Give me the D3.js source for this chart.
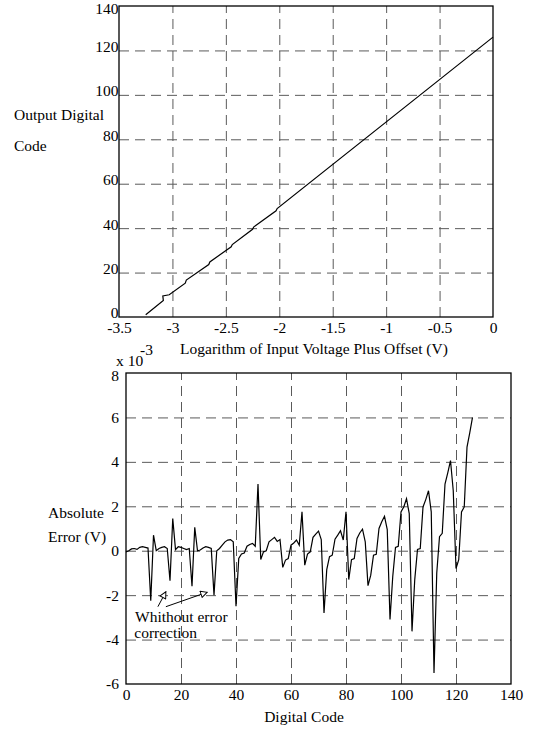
<!DOCTYPE html>
<html>
<head>
<meta charset="utf-8">
<script src="https://cdn.jsdelivr.net/npm/d3@7"></script>
<style>
  body { margin: 0; background: #fff; }
  svg { display: block; }
  text { font-family: "Liberation Serif", "Times New Roman", serif; font-size: 15.5px; fill: #000; }
  .grid line { stroke: #5a5a5a; stroke-width: 1; stroke-dasharray: 10, 6; }
  .grid path { display: none; }
  .lbl path, .lbl line { display: none; }
</style>
</head>
<body>
<svg width="539" height="730"></svg>
<script>
// top chart: output code vs log of input voltage
var logInput = [-3.25, -3.085, -3.09, -3.03, -2.88, -2.87, -2.66, -2.65, -2.45, -2.44, -2.25, -2.24, -2.03, -2.02, 0];
var outCode  = [1, 7.4, 9.5, 10, 15.2, 16.6, 23.6, 24.8, 31.6, 32.6, 39.5, 40.5, 47.8, 48.8, 126];
var topXTicks = [-3.5, -3, -2.5, -2, -1.5, -1, -0.5, 0];
var topYTicks = [0, 20, 40, 60, 80, 100, 120, 140];

// bottom chart: absolute error (x 1e-3 V) for digital codes 0..126
var absError = [
  -0.05, 0.0, 0.08, 0.1, 0.06, 0.15, 0.18, 0.15, 0.12, -2.25,
  0.7, 0.0, 0.1, 0.15, 0.18, 0.1, -1.35, 1.45, 0.05, 0.18,
  0.15, 0.1, 0.05, 0.1, -1.6, 1.05, 0.0, 0.03, 0.12, 0.18,
  0.15, 0.1, -2.0, 0.0, 0.1, 0.25, 0.4, 0.48, 0.5, 0.4,
  -2.5, -0.35, -0.15, -0.1, 0.2, 0.28, 0.33, 0.2, 3.0, -0.4,
  -0.05, 0.0, 0.4, 0.5, 0.6, 0.42, 0.5, -0.75, -0.42, -0.35,
  0.25, 0.35, 0.48, 0.25, 1.75, -0.65, -0.15, -0.05, 0.6, 0.75,
  0.88, 0.5, -2.8, -0.85, -0.27, -0.2, 0.52, 0.7, 0.9, 0.48,
  1.75, -1.3, -0.4, -0.35, 0.55, 0.8, 0.97, 0.4, -1.57, -1.1,
  -0.2, -0.16, 1.0, 1.3, 1.55, 0.95, -3.1, -1.16, 0.15, 0.2,
  1.75, 1.97, 2.34, 1.67, -3.63, -1.3, 0.06, 0.1, 1.97, 2.3,
  2.7, 1.75, -5.5, -1.0, 0.63, 0.78, 3.0, 3.5, 4.06, 2.7,
  -0.8, -0.4, 1.75, 1.97, 4.66, 5.3, 6.0
];
var botXTicks = [0, 20, 40, 60, 80, 100, 120, 140];
var botYTicks = [-6, -4, -2, 0, 2, 4, 6, 8];

var svg = d3.select("svg");
var plain = function(d) { return String(d); };   // hyphen minus like the original

function drawFrame(g, x, y, xTicks, yTicks) {
    var w = x.range()[1], h = y.range()[0];
    g.append("g").attr("class", "grid")
        .attr("transform", "translate(0," + h + ")")
        .call(d3.axisBottom(x).tickValues(xTicks.slice(1, -1)).tickSize(-h).tickFormat(""));
    g.append("g").attr("class", "grid")
        .call(d3.axisLeft(y).tickValues(yTicks.slice(1, -1)).tickSize(-w).tickFormat(""));
    g.append("rect")
        .attr("width", w).attr("height", h)
        .attr("fill", "none").attr("stroke", "#000").attr("stroke-width", 1.3);
}

function styleLabels(sel) {
    sel.attr("font-size", null).attr("font-family", null);
}

// ---------------- TOP
var tx = d3.scaleLinear().domain([-3.5, 0]).range([0, 374]);
var ty = d3.scaleLinear().domain([0, 140]).range([311, 0]);
var topG = svg.append("g").attr("transform", "translate(119,6)");
drawFrame(topG, tx, ty, topXTicks, topYTicks);

topG.append("path")
    .attr("d", d3.line()(logInput.map(function(v, i) { return [tx(v), ty(outCode[i])]; })))
    .attr("fill", "none").attr("stroke", "#000").attr("stroke-width", 1.2);

topG.append("g").attr("class", "lbl")
    .attr("transform", "translate(0,311)")
    .call(d3.axisBottom(tx).tickValues(topXTicks).tickSize(0).tickPadding(5).tickFormat(plain))
    .call(styleLabels);
topG.append("g").attr("class", "lbl")
    .call(d3.axisLeft(ty).tickValues(topYTicks).tickSize(0).tickPadding(0.5).tickFormat(plain))
    .call(styleLabels)
    .selectAll("text")
    .attr("transform", function(d) { return d === 140 ? "translate(0,3)" : "translate(0,-4)"; });

svg.append("text").attr("x", 14).attr("y", 120).text("Output Digital");
svg.append("text").attr("x", 14).attr("y", 151).text("Code");
svg.append("text").attr("x", 314).attr("y", 354).attr("text-anchor", "middle")
    .text("Logarithm of Input Voltage Plus Offset (V)");

// ---------------- BOTTOM
var bx = d3.scaleLinear().domain([0, 140]).range([0, 385]);
var by = d3.scaleLinear().domain([-6, 8]).range([311, 0]);
var botG = svg.append("g").attr("transform", "translate(126,373)");
drawFrame(botG, bx, by, botXTicks, botYTicks);

botG.append("path")
    .attr("d", d3.line().x(function(d, i) { return bx(i); }).y(function(d) { return by(d); })(absError))
    .attr("fill", "none").attr("stroke", "#000").attr("stroke-width", 1.2)
    .attr("stroke-linejoin", "miter");

botG.append("g").attr("class", "lbl")
    .attr("transform", "translate(0,311)")
    .call(d3.axisBottom(bx).tickValues(botXTicks).tickSize(0).tickPadding(5).tickFormat(plain))
    .call(styleLabels);
botG.append("g").attr("class", "lbl")
    .call(d3.axisLeft(by).tickValues(botYTicks).tickSize(0).tickPadding(7).tickFormat(plain))
    .call(styleLabels)
    .selectAll("text")
    .attr("transform", function(d) { return d === 8 ? "translate(0,3)" : null; });

// annotation
var defs = svg.append("defs");
defs.append("marker")
    .attr("id", "tri").attr("viewBox", "0 0 10 10")
    .attr("refX", 9).attr("refY", 5)
    .attr("markerWidth", 8).attr("markerHeight", 8)
    .attr("markerUnits", "userSpaceOnUse")
    .attr("orient", "auto")
    .append("path").attr("d", "M1,1 L9,5 L1,9 Z")
    .attr("fill", "#fff").attr("stroke", "#000").attr("stroke-width", 1.2);

var arrows = [
    { from: [11.6, -2.52], to: [14.5, -1.85] },
    { from: [14.5, -2.52], to: [29.5, -1.87] }
];
botG.selectAll(".arrow").data(arrows).enter().append("line")
    .attr("x1", function(d) { return bx(d.from[0]); })
    .attr("y1", function(d) { return by(d.from[1]); })
    .attr("x2", function(d) { return bx(d.to[0]); })
    .attr("y2", function(d) { return by(d.to[1]); })
    .attr("stroke", "#000").attr("stroke-width", 1)
    .attr("marker-end", "url(#tri)");

botG.append("text").attr("x", bx(3.3)).attr("y", 249).text("Whithout error");
botG.append("text").attr("x", bx(3.0)).attr("y", 265).text("correction");

svg.append("text").attr("x", 116).attr("y", 366).text("x 10");
svg.append("text").attr("x", 140).attr("y", 355).text("-3");

svg.append("text").attr("x", 48).attr("y", 518).text("Absolute");
svg.append("text").attr("x", 48).attr("y", 542).text("Error (V)");
svg.append("text").attr("x", 304).attr("y", 722).attr("text-anchor", "middle").text("Digital Code");
</script>
</body>
</html>
